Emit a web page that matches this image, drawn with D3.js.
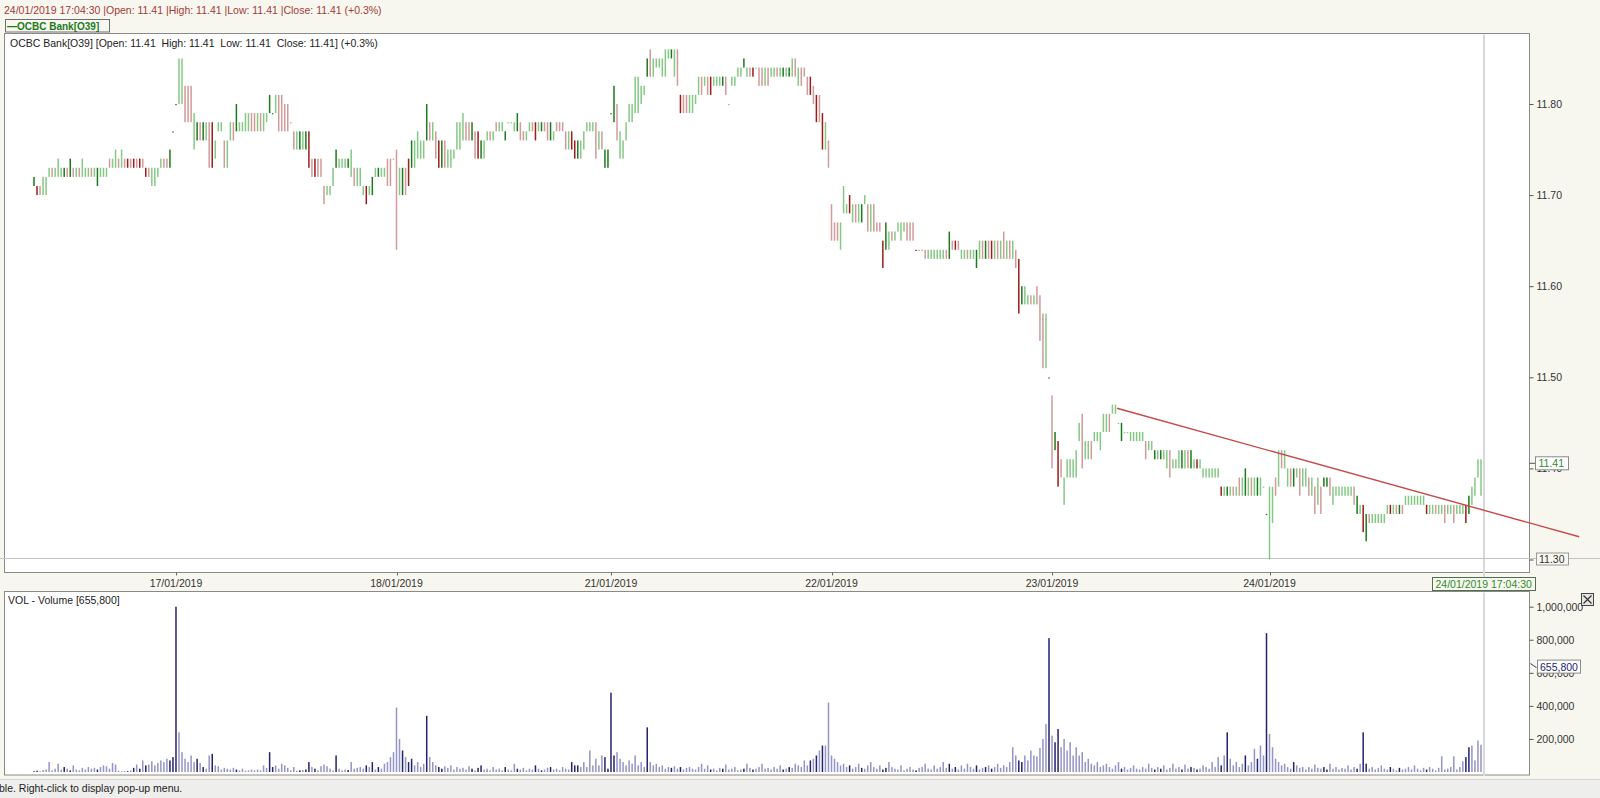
<!DOCTYPE html>
<html><head><meta charset="utf-8">
<script src="https://cdn.jsdelivr.net/npm/d3@7"></script>
<style>
html,body{margin:0;padding:0;background:#F8F7EF;}
svg{display:block;font-family:"Liberation Sans",Arial,sans-serif;}
text{white-space:pre;}
</style></head><body>
<svg id="c" width="1600" height="798"></svg>
<script>
// ---------------- DATA ----------------
// Bars per trading session (16/01 partial, then 17..24/01)
const sessionDates = ["16/01/2019","17/01/2019","18/01/2019","21/01/2019","22/01/2019","23/01/2019","24/01/2019"];
const sessionBarCounts = [47, 73, 71, 73, 73, 72, 71];
// bar lows / highs, in cents above 11.00 SGD
const barLow = [
 71,70,70,70,70, 72,72,72,72,72, 72,72,72,72,72, 72,72,72,72,72, 72,71,72,72,72, 73,73,73,73,73, 73,73,73,73,73, 73,73,72,72,71, 71,72,73,73,73, 73,77,
 80,80,80,78,78, 78,75,76,76,76, 76,73,73,74,77, 77,73,73,76,76, 77,77,77,77,77, 77,77,77,77,77, 78,79,79,79,77, 77,77,77,78,75, 75,75,75,75,73, 72,72,72,72,69, 70,70,71,73,73, 73,73,73,72,71, 71,71,70,69,70, 70,72,72,72,72, 71,71,74,
 64,70,70,70,71, 73,73,74,74,74, 76,76,76,74,73, 73,73,73,73,74, 75,75,76,76,76, 76,74,74,74,74, 76,76,76,77,77, 77,76,78,78,77, 77,76,76,76,77, 77,76,77,77,77, 76,76,76,77,77, 77,75,75,75,74, 74,74,75,77,77, 77,74,75,75,73, 73,
 79,78,76,74,74, 76,78,78,79,79, 80,81,83,83,83, 84,84,83,83,85, 85,83,82,79,79, 79,79,79,80,81, 81,82,81,81,82, 82,82,82,81,80, 82,82,83,83,84, 83,83,83,84,82, 82,82,82,83,83, 83,83,83,83,83, 83,83,82,82,83, 81,81,80,78,78, 75,75,73,
 65,65,65,64,68, 68,68,67,67,67, 67,69,66,66,66, 66,66,62,64,64, 65,65,66,65,66, 65,65,65,64,64, 64,63,63,63,63, 63,63,63,63,63, 64,64,64,63,63, 63,63,63,62,63, 63,63,63,63,63, 63,63,63,63,63, 63,62,57,58,58, 58,58,58,58,54, 51,51,50,
 40,42,38,39,36, 39,39,39,39,43, 40,41,41,41,43, 43,42,44,44,44, 46,46,45,43,44, 44,43,43,43,43, 43,41,42,42,41, 41,41,41,40,39, 40,40,40,40,40, 40,40,40,40,40, 39,39,39,39,39, 39,37,37,37,37, 37,37,37,37,37, 37,37,37,37,37, 38,35,
 30,34,37,38,40, 40,38,38,38,39, 37,38,38,37,37, 35,36,35,38,38, 37,36,37,37,37, 37,37,37,36,35, 35,33,32,34,34, 34,34,34,34,35, 35,35,35,35,35, 36,36,36,36,36, 36,36,35,35,35, 35,35,35,34,35, 35,34,35,35,35, 34,35,36,37,39,37
];
const barHigh = [
 72,71,71,72,72, 73,73,73,74,73, 73,73,74,73,73, 73,74,73,73,73, 73,73,73,73,73, 74,74,75,74,75, 74,74,74,74,74, 74,74,73,73,73, 73,73,74,74,74, 75,77,
 80,85,85,82,82, 82,79,78,78,78, 78,78,78,76,78, 78,76,76,78,78, 80,78,78,79,79, 79,79,79,79,79, 79,81,79,81,81, 81,80,80,78,77, 77,77,77,77,77, 74,74,74,74,71, 71,71,73,75,74, 74,74,74,75,73, 73,73,71,71,71, 72,73,73,73,73, 74,74,74,
 75,73,73,73,74, 76,76,77,76,76, 80,78,78,77,76, 76,76,75,75,75, 78,78,79,78,78, 78,77,77,76,76, 77,77,77,78,78, 78,77,78,78,78, 79,78,77,77,78, 78,78,78,78,78, 78,78,77,78,78, 78,77,77,77,76, 76,76,77,78,78, 78,78,77,77,75, 75,
 79,82,80,77,76, 78,80,80,83,83, 82,82,85,86,85, 85,85,85,86,86, 86,86,86,81,81, 81,81,81,81,83, 83,83,83,83,83, 83,83,83,83,80, 83,83,84,84,85, 84,84,84,84,84, 84,84,84,84,84, 84,84,84,84,84, 85,85,84,84,84, 83,83,82,81,81, 79,78,76,
 69,67,67,67,71, 69,70,69,69,69, 69,70,69,69,69, 67,67,65,67,66, 66,66,67,67,67, 67,67,67,64,64, 64,64,64,64,64, 64,64,64,64,66, 65,65,65,64,64, 64,64,64,64,65, 65,65,65,65,65, 65,65,66,65,65, 65,64,63,60,60, 59,59,59,60,59, 57,57,50,
 48,44,43,41,39, 41,41,41,42,45, 46,43,43,43,44, 44,44,46,46,46, 47,47,45,45,44, 44,44,44,44,44, 44,43,43,43,42, 42,42,42,42,42, 41,41,42,42,42, 42,42,41,41,41, 40,40,40,40,40, 40,38,38,38,38, 38,38,39,39,40, 39,39,39,39,39, 38,35,
 38,38,39,42,42, 42,40,40,40,40, 40,40,40,39,39, 38,39,38,39,39, 39,38,38,38,38, 38,38,38,38,37, 36,36,35,35,35, 35,35,35,35,36, 36,36,36,36,36, 37,37,37,37,37, 37,37,36,36,36, 36,36,36,36,36, 36,36,36,36,36, 36,37,38,39,41,41
];
// bar tone: g = up, G = up (strong), r = down, R = down (strong)
const barTone = (
 "GRrgg grggg GrGrg rgggr gGggg rggrg rRrRr RrRrg gggrr GG" +
 "Gggrr rgGrG grRgg grggr Ggggg rrgrg gGGgr rrrrr gGgGR rRrrr gggGg ggGgr gggRg GgGgg rrr" +
 "rgGrR Ggggg GrgrR Grggg gggrr GrRGg grgrg gGggg Grrgg rRgGr rGgrr rrgRR Ggggg grgrG G" +
 "GGrgg ggggg ggGrg ggggg GgrRr rgggg rgrRg ggGrg ggggG grRgr rgrgg rgGgG grgrr rRrRr Rgr" +
 "rrrgg gRgrg Ggrgr rrRGg rgggg rrrRr rrggg gggrG rRrgg rggGg rGrRg rgrgr grRGg grgrr rgG" +
 "rGRrg ggggg rggrg ggggr gggGg ggggg grggG gGggr gggGg rGgRg ggggg gRgGg rgrgG grgGg gG" +
 "ggrgr ggrGg rggrg rgrGG rgggg gggrG gRGrg ggggg RgrGr ggggg ggRgg rggrg grggg RGgggg"
).replace(/\s/g, "").split("");
// volume per bar, thousands of shares
const barVolumeK = [
 5,8,5,12,15, 60,10,20,50,15, 30,20,10,40,15, 10,25,15,30,20, 25,15,30,40,35, 20,55,45,8,5, 6,5,10,25,45, 20,70,40,45,65, 40,55,70,60,80, 70,90,
 1000,240,120,80,60, 100,60,80,55,30, 20,100,110,40,35, 15,25,20,15,25, 15,10,20,8,10, 15,10,15,10,40, 25,120,30,40,20, 50,40,25,10,30, 8,10,12,15,60, 30,20,10,35,45, 35,20,10,100,20, 10,15,12,60,20, 25,30,20,40,30, 60,15,30,20,50, 60,90,120,
 390,200,130,90,60, 80,40,60,30,50, 340,90,60,40,30, 20,35,25,40,15, 30,20,25,15,35, 20,10,25,40,15, 20,10,30,15,20, 10,30,15,10,50, 20,15,25,10,20, 15,40,20,10,15, 25,30,15,20,10, 30,20,15,60,40, 40,30,60,30,130, 40,80,40,100,90, 20,
 480,100,120,80,60, 40,70,50,100,40, 60,30,270,60,40, 50,30,40,20,30, 25,35,20,30,15, 25,30,20,15,30, 50,20,40,15,20, 10,25,20,45,15, 20,30,10,15,20, 50,25,15,20,30, 50,20,25,15,30, 20,40,15,20,30, 25,50,40,30,70, 40,70,80,100,130, 160,160,420,
 100,80,60,40,50, 30,40,20,30,50, 25,20,40,60,30, 20,40,15,25,60, 30,20,15,40,10, 20,30,15,10,25, 30,50,20,15,40, 20,30,60,25,50, 20,30,15,40,20, 50,30,20,40,15, 25,30,40,20,30, 50,25,40,30,60, 150,100,70,60,100, 70,130,100,95,145, 200,290,810,
 220,180,260,150,200, 130,180,100,150,100, 120,60,80,50,40, 60,30,40,50,30, 20,40,60,20,30, 15,25,40,20,15, 30,20,50,25,15, 30,20,40,15,25, 50,20,30,15,45, 20,30,25,15,20, 40,30,20,60,30, 90,40,100,240,80, 40,60,30,50,100, 40,60,140,80,160, 100,840,
 230,150,80,60,40, 50,30,20,60,40, 25,30,15,30,20, 45,25,20,30,15, 50,20,30,15,25, 20,40,15,30,20, 50,240,50,20,30, 15,25,40,20,15, 30,20,10,25,15, 20,30,15,40,20, 10,25,15,30,20, 10,25,95,15,20, 30,95,15,30,65, 90,150,160,70,190,165
];
const priceTicks = [11.30, 11.40, 11.50, 11.60, 11.70, 11.80];
const volumeTicks = [200000, 400000, 600000, 800000, 1000000];
const trendLine = [{bar: 358.5, price: 11.466}, {bar: 511.5, price: 11.325}];
const lastQuote = {time: "24/01/2019 17:04:30", open: 11.41, high: 11.41, low: 11.41, close: 11.41, change: "+0.3%"};
const crosshairPrice = 11.30;
const lastVolume = 655800;

// ---------------- CHART ----------------
const FS = 10.5;
const N = barLow.length;
const bars = barLow.map((lo, i) => ({i, lo: 11 + lo/100, hi: 11 + barHigh[i]/100, tone: barTone[i] || "g", v: barVolumeK[i]*1000}));
const svg = d3.select("#c");
const W = 1600, H = 798;
const paneL = 4.5, paneR = 1529.5;
const priceTop = 33.5, priceBot = 572.5;
const volTop = 591.5, volBot = 775;

const xs = d3.scaleLinear().domain([0, N]).range([34, 1484]);
const yP = d3.scaleLinear().domain([11.30, 11.80]).range([559.5, 104]);
const yV = d3.scaleLinear().domain([0, 1000000]).range([772, 606.7]);

const toneColor = {g: "#86C986", G: "#1E7A1E", r: "#D29A9A", R: "#9C1C1C"};
const volColor = {g: "#9494C6", r: "#9494C6", G: "#23236E", R: "#23236E"};

svg.append("rect").attr("width", W).attr("height", H).attr("fill", "#F8F7EF");
// status bar
svg.append("rect").attr("x", 0).attr("y", 779).attr("width", W).attr("height", 19).attr("fill", "#EEEEEC");
svg.append("line").attr("x1", 0).attr("x2", W).attr("y1", 779.5).attr("y2", 779.5).attr("stroke", "#D6D6D2");
svg.append("text").attr("x", -1).attr("y", 792).attr("font-size", FS).attr("fill", "#222")
  .text("ble. Right-click to display pop-up menu.");

// header
const fmt2 = d3.format(".2f");
svg.append("text").attr("x", 4).attr("y", 14).attr("font-size", FS).attr("fill", "#A23A3A")
  .text(`${lastQuote.time} |Open: ${fmt2(lastQuote.open)} |High: ${fmt2(lastQuote.high)} |Low: ${fmt2(lastQuote.low)} |Close: ${fmt2(lastQuote.close)} (${lastQuote.change})`);
svg.append("rect").attr("x", 5.5).attr("y", 19.5).attr("width", 104).attr("height", 12.5)
  .attr("fill", "#F8F7EF").attr("stroke", "#6E6E6E");
svg.append("text").attr("x", 7).attr("y", 29.5).attr("font-size", 10).attr("font-weight", "bold").attr("fill", "#1E7A1E")
  .text("\u2014OCBC Bank[O39]");

// panes
svg.append("rect").attr("x", paneL).attr("y", priceTop).attr("width", paneR - paneL).attr("height", priceBot - priceTop)
  .attr("fill", "#fff").attr("stroke", "#8A8A8A");
svg.append("rect").attr("x", paneL).attr("y", volTop).attr("width", paneR - paneL).attr("height", volBot - volTop)
  .attr("fill", "#fff").attr("stroke", "#8A8A8A");

svg.append("text").attr("x", 10).attr("y", 47).attr("font-size", FS).attr("fill", "#222")
  .text(`OCBC Bank[O39] [Open: ${fmt2(lastQuote.open)}  High: ${fmt2(lastQuote.high)}  Low: ${fmt2(lastQuote.low)}  Close: ${fmt2(lastQuote.close)}] (${lastQuote.change})`);
svg.append("text").attr("x", 8).attr("y", 604).attr("font-size", FS).attr("fill", "#222")
  .text(`VOL - Volume [${d3.format(",")(lastVolume)}]`);

// crosshair
const cx = xs(N);
svg.append("line").attr("x1", cx).attr("x2", cx).attr("y1", priceTop + 1).attr("y2", 577)
  .attr("stroke", "#D9D9D9").attr("stroke-width", 2);
svg.append("line").attr("x1", cx).attr("x2", cx).attr("y1", volTop + 1).attr("y2", volBot + 1)
  .attr("stroke", "#D9D9D9").attr("stroke-width", 2);
svg.append("line").attr("x1", 0).attr("x2", W).attr("y1", Math.round(yP(crosshairPrice)) - 1.5).attr("y2", Math.round(yP(crosshairPrice)) - 1.5)
  .attr("stroke", "#C4C4C4");

// price bars
svg.append("g").selectAll("rect").data(bars).join("rect")
  .attr("x", d => xs(d.i) - 0.75).attr("width", 1.5)
  .attr("y", d => yP(d.hi))
  .attr("height", d => Math.max(1.2, yP(d.lo) - yP(d.hi)))
  .attr("fill", d => toneColor[d.tone]);

// volume bars
svg.append("g").selectAll("rect").data(bars).join("rect")
  .attr("x", d => xs(d.i) - 0.75).attr("width", 1.5)
  .attr("y", d => yV(d.v))
  .attr("height", d => yV(0) - yV(d.v))
  .attr("fill", d => volColor[d.tone]);

// trend line
svg.append("line")
  .attr("x1", xs(trendLine[0].bar)).attr("y1", yP(trendLine[0].price))
  .attr("x2", xs(trendLine[1].bar)).attr("y2", yP(trendLine[1].price))
  .attr("stroke", "#C84848").attr("stroke-width", 1.4);

// price axis
const pAxis = svg.append("g").attr("transform", `translate(${paneR},0)`)
  .call(d3.axisRight(yP).tickValues(priceTicks).tickFormat(fmt2).tickSize(4).tickPadding(3));
pAxis.select(".domain").remove();
pAxis.selectAll("line").attr("stroke", "#555");
pAxis.selectAll("text").attr("font-size", FS).attr("fill", "#333").attr("font-family", "Liberation Sans, Arial, sans-serif");

// volume axis
const vAxis = svg.append("g").attr("transform", `translate(${paneR},0)`)
  .call(d3.axisRight(yV).tickValues(volumeTicks).tickFormat(d3.format(",")).tickSize(4).tickPadding(3));
vAxis.select(".domain").remove();
vAxis.selectAll("line").attr("stroke", "#555");
vAxis.selectAll("text").attr("font-size", FS).attr("fill", "#333").attr("font-family", "Liberation Sans, Arial, sans-serif");

// date axis (session starts)
const starts = [];
sessionBarCounts.reduce((acc, n) => { starts.push(acc); return acc + n; }, 0);
const dateTicks = starts.slice(1).map((s, k) => ({i: s, label: sessionDates[k + 1]}));
const xg = svg.append("g");
xg.selectAll("line").data(dateTicks).join("line")
  .attr("x1", d => Math.round(xs(d.i)) + 0.5).attr("x2", d => Math.round(xs(d.i)) + 0.5)
  .attr("y1", priceBot).attr("y2", priceBot + 3).attr("stroke", "#666");
xg.selectAll("text").data(dateTicks).join("text")
  .attr("x", d => xs(d.i)).attr("y", 587).attr("text-anchor", "middle")
  .attr("font-size", FS).attr("fill", "#333").text(d => d.label);

// last-price marker box
const lp = yP(lastQuote.close) + 4;
svg.append("line").attr("x1", paneR).attr("x2", 1536).attr("y1", lp).attr("y2", lp).attr("stroke", "#555");
svg.append("rect").attr("x", 1535.5).attr("y", lp - 6.5).attr("width", 33).attr("height", 13)
  .attr("fill", "#fff").attr("stroke", "#8A8A8A");
svg.append("text").attr("x", 1538.5).attr("y", lp + 4).attr("font-size", FS).attr("fill", "#2E8B2E").text(fmt2(lastQuote.close));

// crosshair price box
const cp = Math.round(yP(crosshairPrice)) - 1.5;
svg.append("rect").attr("x", 1536.5).attr("y", cp - 5.5).attr("width", 32).attr("height", 12)
  .attr("fill", "#F8F7EF").attr("stroke", "#9A9A9A");
svg.append("text").attr("x", 1539).attr("y", cp + 4).attr("font-size", FS).attr("fill", "#333").text(fmt2(crosshairPrice));

// crosshair date box
svg.append("rect").attr("x", 1432.5).attr("y", 577.5).attr("width", 103).attr("height", 13)
  .attr("fill", "#F8F7EF").attr("stroke", "#4F6F4F");
svg.append("text").attr("x", 1435.5).attr("y", 588).attr("font-size", FS).attr("fill", "#2E8B2E").text(lastQuote.time);

// last-volume box
const lv = yV(lastVolume) + 3;
svg.append("path").attr("d", `M${paneR + 1},${lv - 3} l3,2 l3,2`).attr("fill", "none").attr("stroke", "#334");
svg.append("rect").attr("x", 1537.5).attr("y", lv - 6.5).attr("width", 43).attr("height", 13)
  .attr("fill", "#fff").attr("stroke", "#8A8A8A");
svg.append("text").attr("x", 1540).attr("y", lv + 4).attr("font-size", FS).attr("fill", "#23237A").text(d3.format(",")(lastVolume));

// close button
svg.append("rect").attr("x", 1581.5).attr("y", 593.5).attr("width", 12).attr("height", 12)
  .attr("fill", "#E6E6E2").attr("stroke", "#444");
svg.append("path").attr("d", "M1583.5,595.5 L1591.5,603.5 M1591.5,595.5 L1583.5,603.5").attr("stroke", "#333").attr("stroke-width", 1.2);
</script>
</body></html>
